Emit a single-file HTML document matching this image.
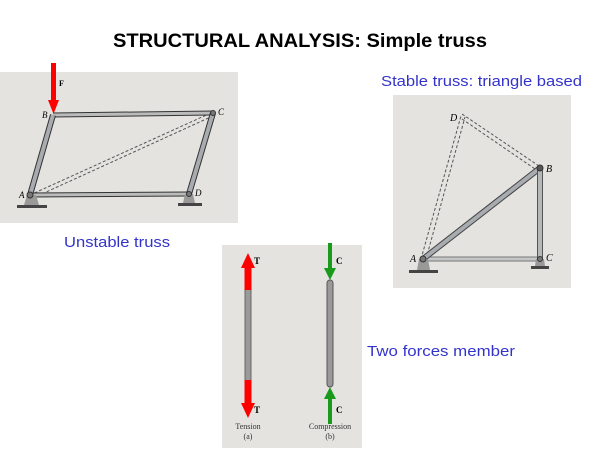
<!DOCTYPE html>
<html><head><meta charset="utf-8"><style>
html,body{margin:0;padding:0;background:#fff}
svg{display:block}
</style></head><body>
<svg width="600" height="450" viewBox="0 0 600 450" xmlns="http://www.w3.org/2000/svg" font-family="Liberation Serif, serif">
<text x="113" y="47" textLength="374" lengthAdjust="spacingAndGlyphs" font-family="Liberation Sans, sans-serif" font-weight="bold" font-size="19" fill="#000">STRUCTURAL ANALYSIS: Simple truss</text>

<!-- Panel 1 -->
<rect x="0" y="72" width="238" height="151" fill="#e4e3e0"/>
<line x1="30" y1="195" x2="213" y2="112" stroke="#555" stroke-width="1" stroke-dasharray="3,2"/>
<line x1="33" y1="198" x2="215" y2="115" stroke="#555" stroke-width="1" stroke-dasharray="3,2"/>
<line x1="53" y1="115" x2="213" y2="113" stroke="#333" stroke-width="5"/>
<line x1="53" y1="115" x2="213" y2="113" stroke="#bbb" stroke-width="3"/>
<line x1="30" y1="195" x2="189" y2="194" stroke="#333" stroke-width="5"/>
<line x1="30" y1="195" x2="189" y2="194" stroke="#bbb" stroke-width="3"/>
<line x1="53" y1="115" x2="30" y2="195" stroke="#333" stroke-width="6"/>
<line x1="53" y1="115" x2="30" y2="195" stroke="#a8acb0" stroke-width="4"/>
<line x1="213" y1="113" x2="189" y2="194" stroke="#333" stroke-width="6"/>
<line x1="213" y1="113" x2="189" y2="194" stroke="#a8acb0" stroke-width="4"/>
<path d="M24 205 L27 195 L36 195 L39 205 Z" fill="#999"/>
<rect x="17" y="205" width="30" height="3" fill="#444"/>
<path d="M183 203 L185 194 L193 194 L195 203 Z" fill="#999"/>
<rect x="178" y="203" width="24" height="3" fill="#444"/>
<circle cx="30" cy="195" r="3" fill="#777" stroke="#333"/>
<circle cx="189" cy="194" r="2.5" fill="#777" stroke="#333"/>
<circle cx="213" cy="113" r="2.5" fill="#777" stroke="#333"/>
<rect x="51" y="63" width="5" height="38" fill="#f00"/>
<path d="M48 100 L59 100 L53.5 114 Z" fill="#f00"/>
<text x="59" y="86" font-size="8" font-weight="bold">F</text>
<text x="42" y="118" font-size="9" font-style="italic">B</text>
<text x="218" y="115" font-size="9" font-style="italic">C</text>
<text x="19" y="198" font-size="9" font-style="italic">A</text>
<text x="195" y="196" font-size="9" font-style="italic">D</text>
<text x="64" y="247" textLength="106" lengthAdjust="spacingAndGlyphs" font-family="Liberation Sans, sans-serif" font-size="15" fill="#3333cc">Unstable truss</text>

<!-- Panel 2 -->
<text x="381" y="86" textLength="201" lengthAdjust="spacingAndGlyphs" font-family="Liberation Sans, sans-serif" font-size="15" fill="#3333cc">Stable truss: triangle based</text>
<rect x="393" y="95" width="178" height="193" fill="#e4e3e0"/>
<line x1="421" y1="259" x2="461" y2="116" stroke="#555" stroke-dasharray="3,2"/>
<line x1="426" y1="259" x2="465" y2="117" stroke="#555" stroke-dasharray="3,2"/>
<line x1="462" y1="114" x2="539" y2="166" stroke="#555" stroke-dasharray="3,2"/>
<line x1="462" y1="119" x2="538" y2="171" stroke="#555" stroke-dasharray="3,2"/>
<line x1="423" y1="259" x2="540" y2="259" stroke="#777" stroke-width="5"/>
<line x1="423" y1="259" x2="540" y2="259" stroke="#c5c8c8" stroke-width="3"/>
<line x1="423" y1="259" x2="540" y2="168" stroke="#444" stroke-width="6"/>
<line x1="423" y1="259" x2="540" y2="168" stroke="#a8acb0" stroke-width="4"/>
<line x1="540" y1="168" x2="540" y2="259" stroke="#555" stroke-width="6"/>
<line x1="540" y1="168" x2="540" y2="259" stroke="#b5b8b8" stroke-width="4"/>
<path d="M417 270 L419 259 L428 259 L430 270 Z" fill="#999"/>
<rect x="409" y="270" width="29" height="3" fill="#444"/>
<path d="M535 266 L536 259 L544 259 L545 266 Z" fill="#999"/>
<rect x="531" y="266" width="18" height="3" fill="#444"/>
<circle cx="423" cy="259" r="3" fill="#777" stroke="#333"/>
<circle cx="540" cy="168" r="3" fill="#555" stroke="#333"/>
<circle cx="540" cy="259" r="2.5" fill="#777" stroke="#333"/>
<text x="450" y="121" font-size="10" font-style="italic">D</text>
<text x="546" y="172" font-size="10" font-style="italic">B</text>
<text x="546" y="261" font-size="10" font-style="italic">C</text>
<text x="410" y="262" font-size="10" font-style="italic">A</text>

<!-- Panel 3 -->
<rect x="222" y="245" width="140" height="203" fill="#e4e3e0"/>
<rect x="245" y="284" width="6" height="100" rx="2" fill="#9a9a9a" stroke="#666"/>
<path d="M241 268 L248 253 L255 268 Z" fill="#f00"/>
<rect x="244.5" y="266" width="7" height="24" fill="#f00"/>
<rect x="244.5" y="380" width="7" height="24" fill="#f00"/>
<path d="M241 403 L248 418 L255 403 Z" fill="#f00"/>
<text x="254" y="264" font-size="9" font-weight="bold">T</text>
<text x="254" y="413" font-size="9" font-weight="bold">T</text>
<rect x="327" y="280" width="6" height="107" rx="3" fill="#9a9a9a" stroke="#555"/>
<rect x="328" y="243" width="4" height="26" fill="#1a9a1a"/>
<path d="M324 268 L330 280 L336 268 Z" fill="#1a9a1a"/>
<path d="M324 399 L330 387 L336 399 Z" fill="#1a9a1a"/>
<rect x="328" y="398" width="4" height="26" fill="#1a9a1a"/>
<text x="336" y="264" font-size="9" font-weight="bold">C</text>
<text x="336" y="413" font-size="9" font-weight="bold">C</text>
<text x="248" y="429" text-anchor="middle" font-size="8" fill="#333">Tension</text>
<text x="248" y="439" text-anchor="middle" font-size="8" fill="#333">(a)</text>
<text x="330" y="429" text-anchor="middle" font-size="8" fill="#333">Compression</text>
<text x="330" y="439" text-anchor="middle" font-size="8" fill="#333">(b)</text>
<text x="367" y="356" textLength="148" lengthAdjust="spacingAndGlyphs" font-family="Liberation Sans, sans-serif" font-size="15" fill="#3333cc">Two forces member</text>
</svg>
</body></html>
